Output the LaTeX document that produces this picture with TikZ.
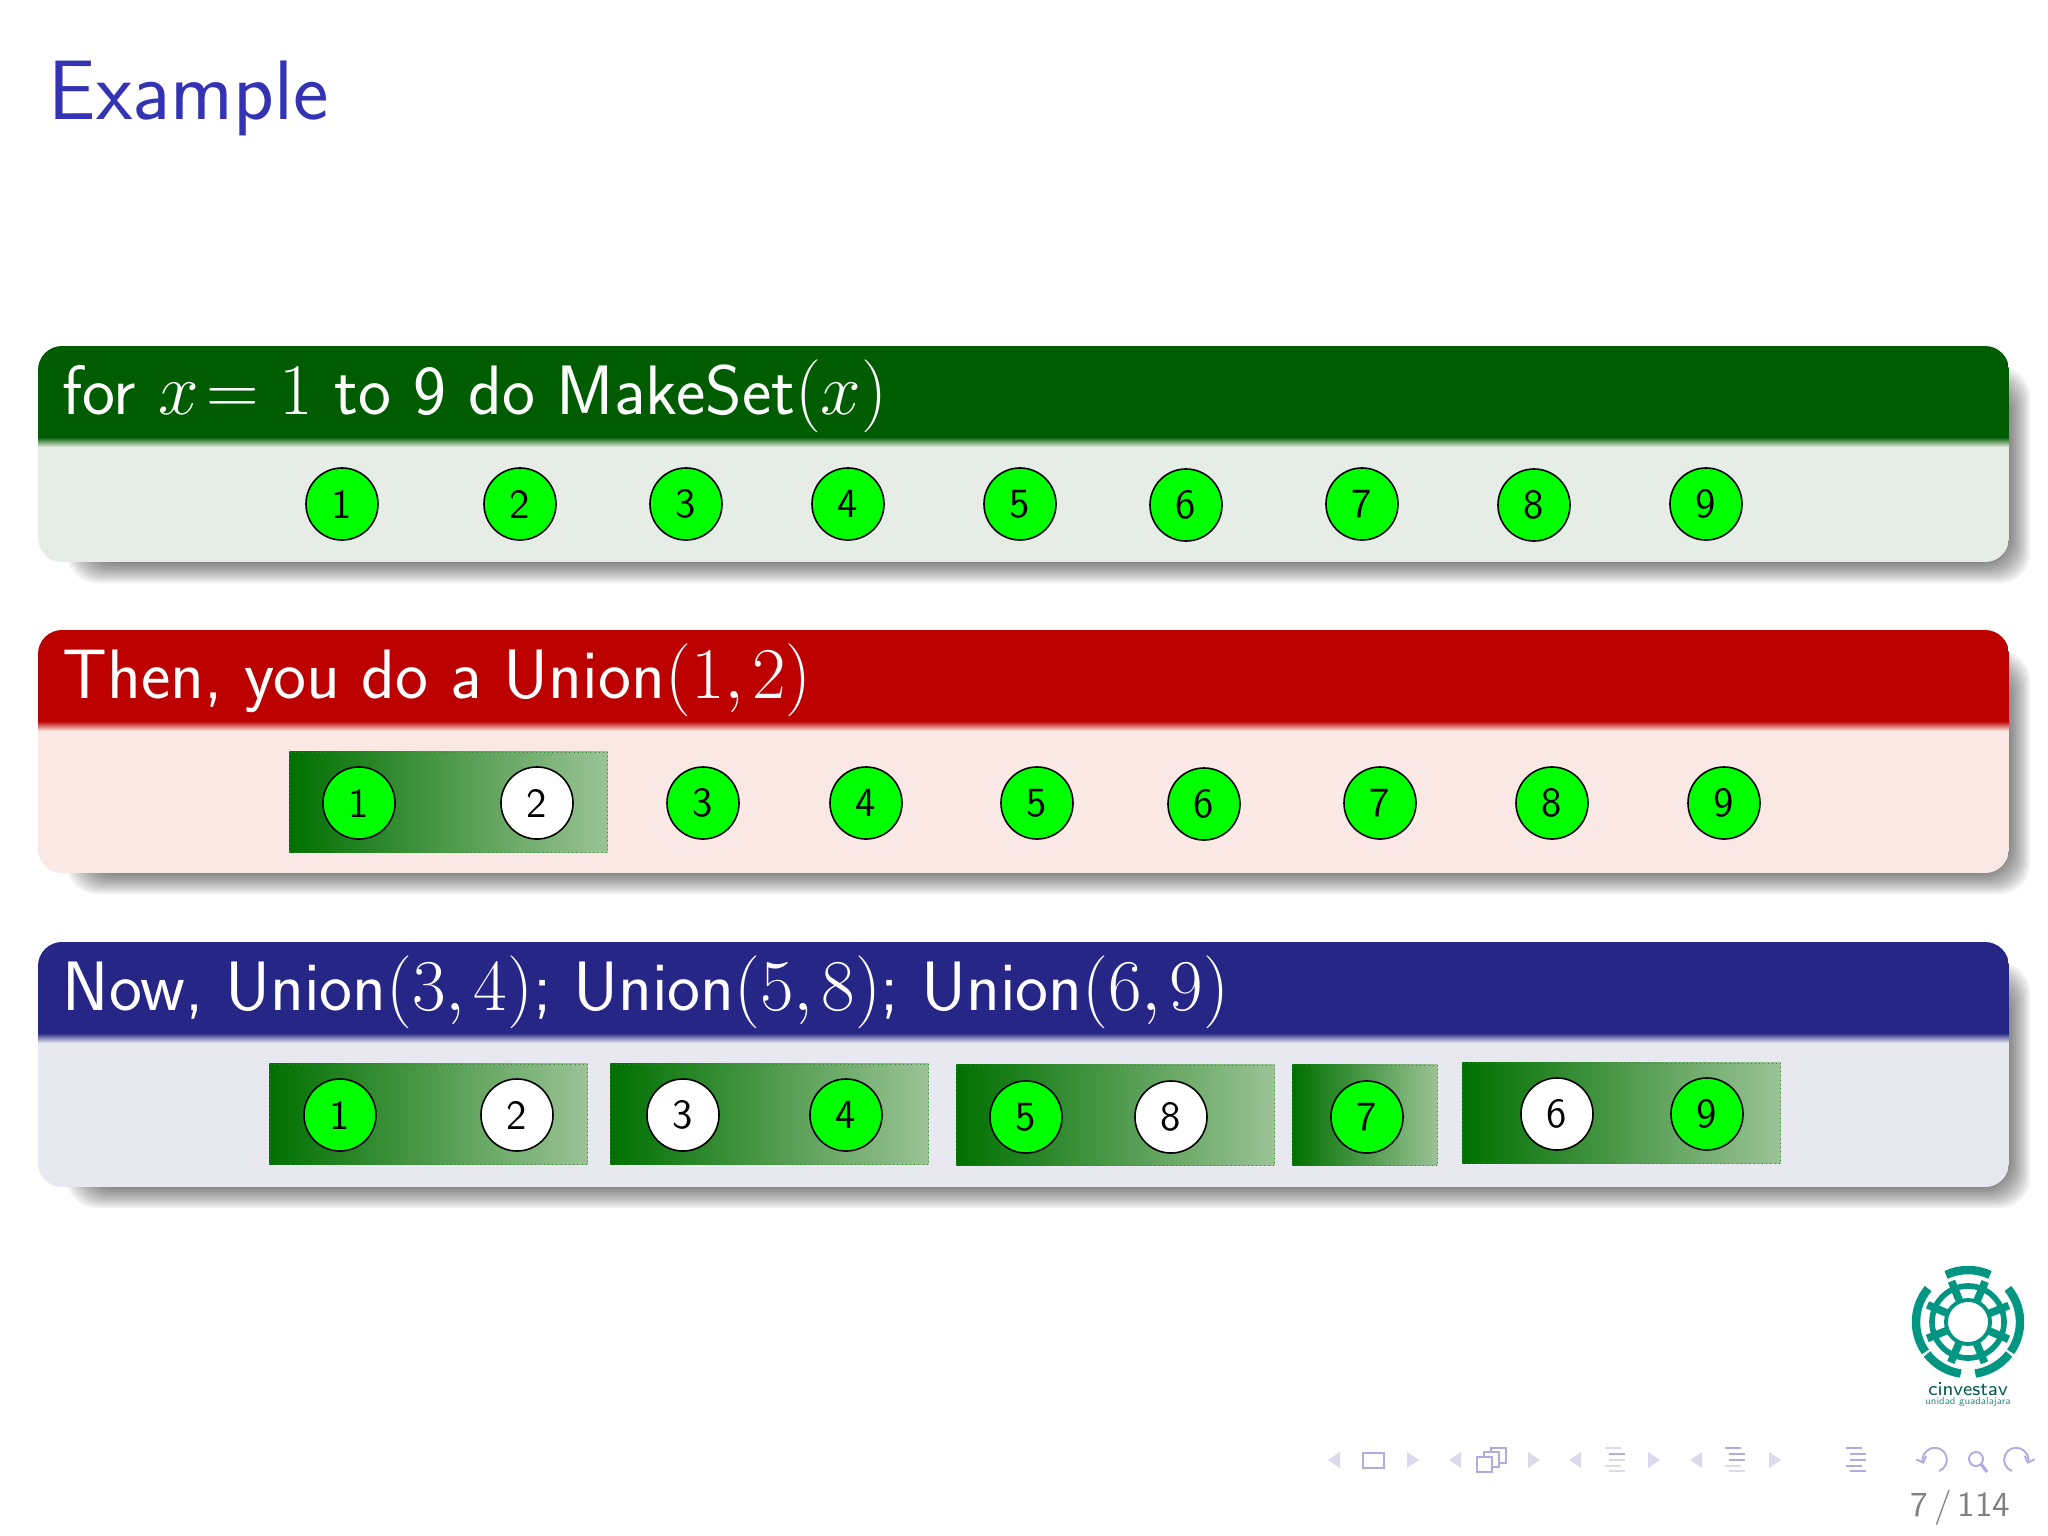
\documentclass[tikz,border=0pt]{standalone}
\usepackage{amsmath}
\usepackage{amssymb}
\usetikzlibrary{shapes, arrows.meta, positioning}

\definecolor{titleblue}{RGB}{51,51,179}
\definecolor{headgreen}{RGB}{0,92,0}
\definecolor{bodygreen}{RGB}{230,236,230}
\definecolor{headred}{RGB}{188,0,0}
\definecolor{bodyred}{RGB}{250,232,228}
\definecolor{headblue}{RGB}{38,38,135}
\definecolor{bodyblue}{RGB}{232,232,240}
\definecolor{setgreen}{RGB}{0,255,0}
\definecolor{rectdark}{RGB}{0,112,0}
\definecolor{rectlight}{RGB}{155,195,150}
\definecolor{logoteal}{RGB}{0,150,130}
\definecolor{navpale}{RGB}{218,218,236}
\definecolor{navmid}{RGB}{176,172,222}

\tikzset{
	setnode/.style={circle, draw=black, line width=0.45pt, fill=setgreen, minimum size=0.72cm, inner sep=0pt, font=\sffamily\fontsize{11.8}{12}\selectfont},
	rootnode/.style={setnode, fill=white},
	setrect/.style={draw=rectdark!70!rectlight, line width=0.2pt, densely dotted, left color=rectdark, right color=rectlight, minimum height=1.0cm, inner sep=0pt, anchor=west},
	headtext/.style={anchor=base west, inner sep=0pt, text=white, font=\sffamily\fontsize{19.9}{24}\selectfont},
	navtri/.style={fill=navpale},
	navline/.style={navmid, line width=0.55pt}
}

% one block: top, header end, bottom, header colour, body colour
\newcommand{\slidebox}[5]{
	\foreach \d in {0,2,...,20}
		\fill[black, opacity=0.055, rounded corners=0.3cm] (67+\d,#1+21+\d) rectangle (2030-\d,#3+21-\d);
	\begin{scope}
		\clip[rounded corners=0.24cm] (38,#1) rectangle (2009,#3);
		\fill[#5] (38,#1) rectangle (2009,#3);
		\fill[#4] (38,#1) rectangle (2009,#2-4);
		\shade[top color=#4, bottom color=#5] (38,#2-5) rectangle (2009,#2+5);
	\end{scope}
}

% triangles of the navigation bar
\newcommand{\navleft}[1]{\fill[navtri] (#1-6,1460) -- (#1+6,1452) -- (#1+6,1468) -- cycle;}
\newcommand{\navright}[1]{\fill[navtri] (#1+6,1460) -- (#1-6,1452) -- (#1-6,1468) -- cycle;}

\begin{document}
\begin{tikzpicture}[x=0.01cm, y=-0.01cm]
	\useasboundingbox (0,0) rectangle (2048,1536);

	% title
	\node[anchor=base west, inner sep=0pt, text=titleblue, font=\sffamily\fontsize{24}{28}\selectfont] (title) at (48,119) {Example};

	% three blocks
	\slidebox{346}{442}{562}{headgreen}{bodygreen}
	\slidebox{630}{726}{873}{headred}{bodyred}
	\slidebox{942}{1038}{1187}{headblue}{bodyblue}

	\node[headtext] (headone) at (62,414) {for $x\!=1$ to 9 do MakeSet$(x)$};
	\node[headtext] (headtwo) at (62,698) {Then, you do a Union$(1,\mkern-1mu 2)$};
	\node[headtext] (headthree) at (62,1010) {Now, Union$(3,\mkern-1mu 4)$; Union$(5,\mkern-1mu 8)$; Union$(6,\mkern-1mu 9)$};

	% first row
	\foreach \n/\x/\y in {1/342/504, 2/520/504, 3/686/504, 4/848/504, 5/1020/504, 6/1186/505, 7/1362/504, 8/1534/505, 9/1706/504}
		\node[setnode] (a\n) at (\x,\y) {\n};

	% second row
	\node[setrect, minimum width=3.18cm] (rone) at (289,802) {};
	\foreach \n/\x/\y/\s in {1/359/803/setnode, 2/537/803/rootnode, 3/703/803/setnode, 4/866/803/setnode, 5/1037/803/setnode, 6/1204/804/setnode, 7/1380/803/setnode, 8/1552/803/setnode, 9/1724/803/setnode}
		\node[\s] (b\n) at (\x,\y) {\n};

	% third row
	\node[setrect, minimum width=3.18cm] (sone) at (269,1114) {};
	\node[setrect, minimum width=3.18cm] (stwo) at (610,1114) {};
	\node[setrect, minimum width=3.18cm] (sthree) at (956,1115) {};
	\node[setrect, minimum width=1.45cm] (sfour) at (1292,1115) {};
	\node[setrect, minimum width=3.18cm] (sfive) at (1462,1113) {};
	\foreach \n/\x/\y/\s in {1/340/1115/setnode, 2/517/1115/rootnode, 3/683/1115/rootnode, 4/846/1115/setnode, 5/1026/1117/setnode, 8/1171/1117/rootnode, 7/1367/1117/setnode, 6/1557/1114/rootnode, 9/1707/1114/setnode}
		\node[\s] (c\n) at (\x,\y) {\n};

	% logo
	\begin{scope}[shift={(1968,1322)}, y=0.01cm]
		\foreach \a/\b in {65/115, 140/215, -35/40, 218/262, 278/322}
			\draw[logoteal, line width=2.4pt] (\a:52) arc[start angle=\a, end angle=\b, radius=0.52cm];
		\draw[logoteal, line width=1.6pt] (0,0) circle[radius=0.36cm];
		\draw[logoteal, line width=1.1pt] (0,0) circle[radius=0.22cm];
		\foreach \a in {0,45,...,315}
			\draw[logoteal, line width=2.2pt] (\a+22:22) -- (\a+22:44);
	\end{scope}
	\node[inner sep=0pt, text=logoteal!60!black, font=\sffamily\fontsize{5.6}{6}\selectfont] (logoname) at (1968,1389) {cinvestav};
	\node[inner sep=0pt, text=logoteal!60!gray, font=\sffamily\fontsize{2.9}{3}\selectfont] (logosub) at (1968,1402) {unidad guadalajara};

	% navigation symbols
	\navleft{1334} \navright{1413} \navleft{1455} \navright{1534} \navleft{1575} \navright{1654} \navleft{1696} \navright{1775}
	\draw[navmid, line width=0.6pt] (1363,1453) rectangle (1384,1468);
	\draw[navmid, line width=0.6pt, fill=white] (1491,1448) rectangle (1506,1463);
	\draw[navmid, line width=0.6pt, fill=white] (1484,1452) rectangle (1499,1467);
	\draw[navmid, line width=0.6pt, fill=white] (1477,1457) rectangle (1492,1472);
	\foreach \x/\ca/\cb/\cc/\cd/\ce in {1615/navpale/navmid/navpale/navpale/navpale, 1735/navmid/navmid/navmid/navpale/navpale, 1856/navmid/navmid/navmid/navmid/navmid} {
		\draw[line width=0.75pt, \ca] (\x-10,1448) -- (\x+6,1448);
		\draw[line width=0.75pt, \cb] (\x-6,1454) -- (\x+10,1454);
		\draw[line width=0.75pt, \cc] (\x-6,1460) -- (\x+10,1460);
		\draw[line width=0.75pt, \cd] (\x-10,1466) -- (\x+6,1466);
		\draw[line width=0.75pt, \ce] (\x-6,1471) -- (\x+10,1471);
	}
	\draw[navline, -{Straight Barb[length=1.5pt]}] (1939,1471) arc[start angle=-70, end angle=200, radius=0.12cm];
	\draw[navline] (1976,1459) circle[radius=0.07cm];
	\draw[navline, line width=0.9pt] (1981,1464) -- (1987,1472);
	\draw[navline, -{Straight Barb[length=1.5pt]}] (2012,1471) arc[start angle=250, end angle=-20, radius=0.12cm];

	% page number
	\node[anchor=base east, inner sep=0pt, text=gray, font=\sffamily\fontsize{10}{12}\selectfont] (pagenum) at (2011,1516) {7\,$/$\,114};
\end{tikzpicture}
\end{document}
